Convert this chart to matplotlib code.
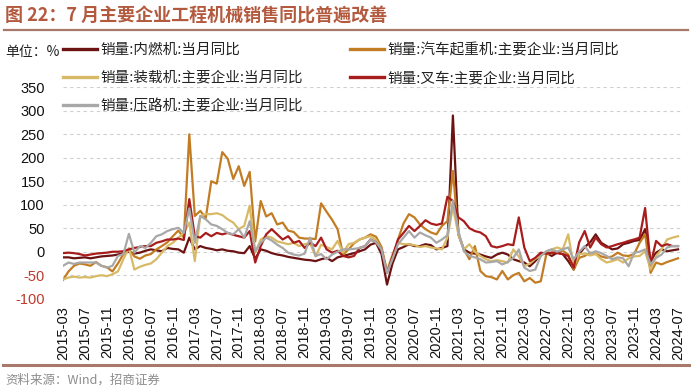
import numpy as np
import pandas as pd
import matplotlib
matplotlib.use("Agg")
import matplotlib.pyplot as plt
from matplotlib.lines import Line2D

plt.rcParams['font.family'] = ['Noto Sans CJK SC', 'DejaVu Sans']

# ---------------- data (monthly, 2015-03 .. 2024-07) ----------------
months = pd.date_range("2015-03-01", "2024-07-01", freq="MS").strftime("%Y-%m").tolist()

neiranji = [-12, -12, -14, -13, -12, -14, -12, -10, -9, -8,
            -6, -3, 0, -4, -2, 2, 5, 3, 1, 8, 6, 5,
            -2, 30, 5, 12, 8, 6, 3, 5, 2, 1, -2, -3,
            12, -15, 5, 2, -3, -6, -8, -11, -13, -15, -17, -18,
            -20, -16, -13, -20, -12, -9, -6, -3, 1, 5, 15, 19,
            -5, -70, -25, 5, 10, 16, 12, 12, 16, 14, 5, 8,
            12, 290, 37, 5, -2, -4, -6, -10, -13, -6, -2, -6,
            -16, -20, -23, -31, -20, -6, -2, -9, -2, -5, -20, -38,
            -5, 10, 20, 37, 19, 12, 5, 7, 16, 19, 23, 25,
            48, -20, -2, 5, 1, 3, 5]

crane = [-60, -42, -30, -25, -27, -30, -22, -30, -33, -42,
         -25, -5, 5, -10, -15, -8, -5, 5, 12, 20, 33, 45,
         30, 250, 76, 87, 72, 150, 145, 212, 198, 155, 182, 140,
         170, 22, 108, 75, 82, 58, 62, 45, 42, 30, 28, 28,
         27, 103, 85, 68, 48, -6, 5, 18, 26, 30, 37, 32,
         10, -42, -15, 26, 60, 80, 73, 58, 48, 41, 37, 55,
         65, 172, 37, 5, -16, 12, -41, -52, -54, -59, -41, -59,
         -50, -45, -63, -56, -66, -63, -6, -2, 0, 2, -6, -38,
         -13, -9, -2, -4, -10, -13, -10, -2, -8, -9, -5, 19,
         37, -45, -23, -27, -22, -18, -14]

loader = [-59, -55, -53, -55, -54, -55, -52, -50, -52, -48,
          -42, -16, 8, -38, -32, -28, -25, -16, -2, 12, 19, 30,
          40, 62, -20, 76, 80, 80, 82, 78, 69, 62, 48, 55,
          98, -2, 26, 33, 30, 22, 19, 16, 19, 12, 16, 18,
          -10, 15, 10, 5, 23, -2, 16, 19, 26, 30, 33, 25,
          5, -40, -5, 19, 16, 16, 14, 10, 12, 9, 7, 5,
          30, 95, 37, 5, 16, 0, -9, -16, -20, -18, -20, -23,
          5, -10, -31, -25, -15, -9, 0, 5, 9, 5, 37, -31,
          -5, -4, -8, -5, -16, -23, -20, -16, -23, -14, -10, -9,
          1, -38, -9, 5, 26, 30, 33]

forklift = [-3, -2, -3, -5, -8, -6, -4, -3, -2, 0,
            0, 1, 5, 8, 10, 12, 12, 19, 22, 26, 26, 28,
            25, 112, 33, 30, 40, 33, 40, 37, 40, 36, 33, 30,
            44, -23, 12, 37, 48, 37, 26, 33, 19, 23, 8, 19,
            12, 30, 5, -2, 2, -9, -12, -9, 8, 12, 26, 20,
            5, -45, -10, 26, 40, 55, 44, 55, 67, 60, 57, 60,
            117, 108, 73, 65, 50, 44, 41, 33, 12, 9, 12, 16,
            14, 73, 9, -20, -13, -2, -4, -2, -3, -5, -9, -34,
            20, 44, 9, 30, 16, 9, 12, 16, 19, 23, 26, 30,
            93, -27, 23, 12, 16, 12, 12]

roller = [-30, -23, -26, -23, -23, -23, -23, -30, -34, -30,
          -9, -5, 38, -2, 12, 8, 19, 33, 37, 44, 48, 51,
          40, 92, 19, 76, 69, 58, 55, 48, 40, 37, 48, 30,
          65, 1, 19, 30, 24, 15, 8, -2, -6, -8, -4, 30,
          -9, -5, -16, -6, 0, 5, 5, 6, 8, 12, 26, 20,
          5, -45, -15, 16, 30, 44, 30, 41, 35, 30, 19, 26,
          35, 108, 44, 1, -9, -12, -16, -23, -22, -20, -27, -22,
          -13, 5, -34, -41, -38, -9, 1, 5, 0, 5, 9, -16,
          0, 12, -4, 1, -3, -9, -16, -12, -14, -31, -2, 0,
          5, -27, -13, -6, 9, 12, 12]

series_names = ["销量:内燃机:当月同比", "销量:汽车起重机:主要企业:当月同比",
                "销量:装载机:主要企业:当月同比", "销量:叉车:主要企业:当月同比",
                "销量:压路机:主要企业:当月同比"]
series_vals = [neiranji, crane, loader, forklift, roller]
series_colors = ["#6B1212", "#C27C24", "#D8BA66", "#A81C1C", "#A8A8A8"]

yticks = [-100, -50, 0, 50, 100, 150, 200, 250, 300, 350]

# ---------------- figure ----------------
fig = plt.figure(figsize=(6.91, 3.92), dpi=100)
ax = fig.add_axes([63 / 691, (392 - 298.7) / 392, (683 - 63) / 691, (298.7 - 87.3) / 392])

x = np.arange(len(months))
handles = []
for name, vals, col in zip(series_names, series_vals, series_colors):
    h, = ax.plot(x, vals, color=col, lw=1.6, label=name, solid_joinstyle='round')
    handles.append(h)

ax.set_xlim(0, len(months) - 1 + 0.9)
ax.set_ylim(-100, 350)
ax.set_yticks(yticks)
ax.set_yticklabels([str(v) for v in yticks], fontfamily='Liberation Sans', fontsize=10.5)
for lab, v in zip(ax.get_yticklabels(), yticks):
    lab.set_color('#C0392B' if v < 0 else '#111111')
tick_idx = list(range(0, len(months), 4))
ax.set_xticks(tick_idx)
ax.set_xticklabels([months[i] for i in tick_idx], rotation=90, fontfamily='Liberation Sans',
                   fontsize=10.5, color='#111111')
ax.tick_params(axis='y', length=0, pad=13)
ax.tick_params(axis='x', length=0, pad=5)
for s in ax.spines.values():
    s.set_visible(False)
ax.grid(axis='y', color='#CFCFCF', lw=0.8, ls=(0, (3, 3)))
ax.set_axisbelow(True)

# legends (two columns)
leg_kw = dict(frameon=False, fontsize=10.5, handlelength=2.3, handletextpad=0.25,
              labelspacing=0.95, borderaxespad=0, borderpad=0)
leg1 = fig.legend([handles[0], handles[2], handles[4]],
                  [series_names[0], series_names[2], series_names[4]],
                  loc='upper left', bbox_to_anchor=(63 / 691, 1 - 43 / 392), **leg_kw)
leg2 = fig.legend([handles[1], handles[3]],
                  [series_names[1], series_names[3]],
                  loc='upper left', bbox_to_anchor=(350 / 691, 1 - 43 / 392), **leg_kw)
for leg in (leg1, leg2):
    for t in leg.get_texts():
        t.set_color('#222222')
    for l in leg.get_lines():
        l.set_linewidth(2.4)

fig.text(5 / 691, 1 - 52 / 392, "单位：%", fontsize=10, va='center', ha='left', color='#222222')

# title and frame lines
fig.text(5 / 691, 1 - 16 / 392, "图 22：7 月主要企业工程机械销售同比普遍改善",
         fontsize=13, fontweight='bold', color='#B35A3E', va='center', ha='left')
fig.add_artist(Line2D([4 / 691, 688 / 691], [1 - 30 / 392, 1 - 30 / 392],
                      transform=fig.transFigure, color='#A8796A', lw=1.6))
fig.add_artist(Line2D([3 / 691, 690 / 691], [1 - 365 / 392, 1 - 365 / 392],
                      transform=fig.transFigure, color='#A8796A', lw=2.2))
fig.text(5 / 691, 1 - 380 / 392, "资料来源：Wind，招商证券", fontsize=9, color='#8C8C8C',
         va='center', ha='left')

fig.savefig("out.png", dpi=100)
